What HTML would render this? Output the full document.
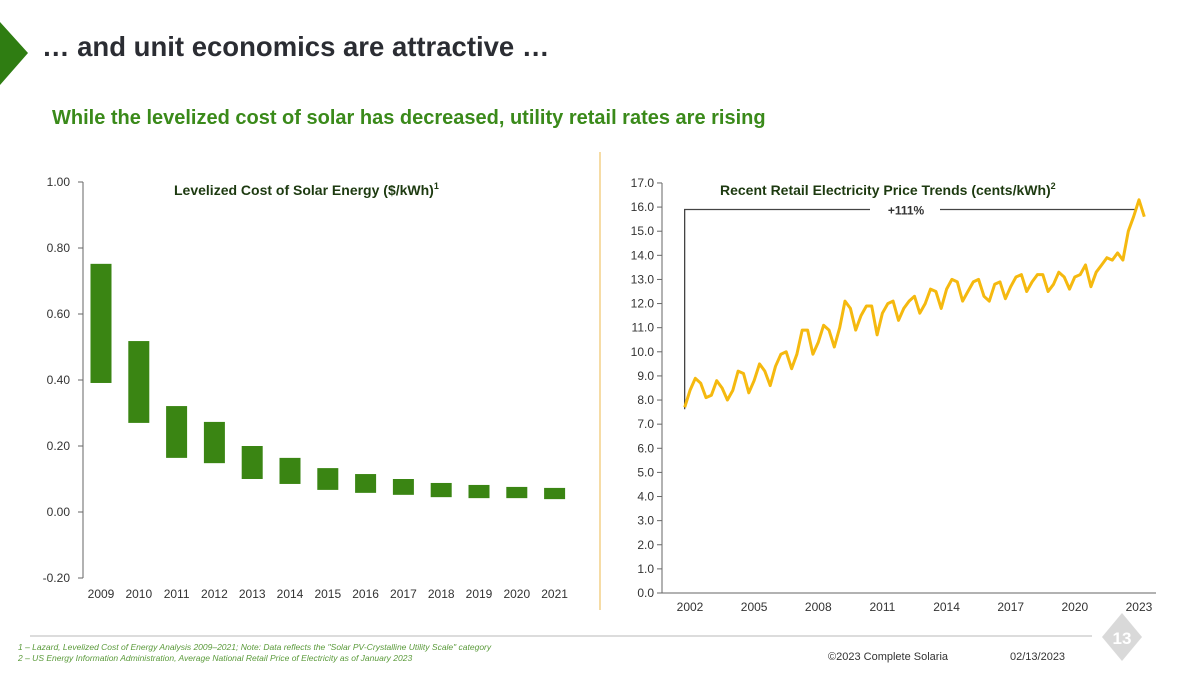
<!DOCTYPE html>
<html><head><meta charset="utf-8"><style>
body{margin:0;width:1200px;height:675px;background:#fff;overflow:hidden;font-family:"Liberation Sans",sans-serif}
svg{position:absolute;left:0;top:0}
</style></head><body>
<svg id="s" width="1200" height="675" viewBox="0 0 1200 675" xmlns="http://www.w3.org/2000/svg" font-family="Liberation Sans, sans-serif">
<polygon points="0,22 28,53 0,85" fill="#2f7d12"/>
<text x="42" y="56" font-size="27.5" font-weight="bold" fill="#2b2d33">… and unit economics are attractive …</text>
<text x="52" y="124" font-size="20" font-weight="bold" fill="#3a8a1a">While the levelized cost of solar has decreased, utility retail rates are rising</text>
<line x1="600" y1="152" x2="600" y2="610" stroke="#efc46a" stroke-width="1.2"/>
<text x="174" y="195" font-size="14" font-weight="bold" fill="#1d3a10">Levelized Cost of Solar Energy ($/kWh)<tspan font-size="9" dy="-6">1</tspan></text>
<text x="720" y="195" font-size="14" font-weight="bold" fill="#1d3a10">Recent Retail Electricity Price Trends (cents/kWh)<tspan font-size="9" dy="-6">2</tspan></text>
<g id="left"></g><g id="right"></g>
<line x1="30" y1="636" x2="1092" y2="636" stroke="#d0d0d0" stroke-width="1.5"/>
<polygon points="1122,613 1142,637 1122,661 1102,637" fill="#d9d9d9"/>
<text x="1122" y="644" font-size="17" font-weight="bold" fill="#fff" text-anchor="middle">13</text>
<text x="18" y="650" font-size="8.5" font-style="italic" fill="#5a9a3a">1 – Lazard, Levelized Cost of Energy Analysis 2009–2021; Note: Data reflects the "Solar PV-Crystalline Utility Scale" category</text>
<text x="18" y="661" font-size="8.5" font-style="italic" fill="#5a9a3a">2 – US Energy Information Administration, Average National Retail Price of Electricity as of January 2023</text>
<text x="828" y="660" font-size="11" fill="#333">©2023 Complete Solaria</text>
<text x="1010" y="660" font-size="11" fill="#333">02/13/2023</text>
</svg>
<script>
const years=["2009","2010","2011","2012","2013","2014","2015","2016","2017","2018","2019","2020","2021"];
const highs=[0.752,0.518,0.321,0.273,0.200,0.164,0.133,0.115,0.100,0.088,0.082,0.076,0.073];
const lows=[0.391,0.270,0.164,0.148,0.100,0.085,0.067,0.058,0.052,0.045,0.042,0.042,0.039];
const leftTicks=[1.0,0.8,0.6,0.4,0.2,0.0,-0.2];
const priceStart=2001.75;
const prices=[7.7,
8.4,8.9,8.7,8.1, 8.2,8.8,8.5,8.0, 8.4,9.2,9.1,8.3, 8.8,9.5,9.2,8.6,
9.4,9.9,10.0,9.3, 9.9,10.9,10.9,9.9, 10.4,11.1,10.9,10.2, 11.0,12.1,11.8,10.9,
11.5,11.9,11.9,10.7, 11.6,12.0,12.1,11.3, 11.8,12.1,12.3,11.6, 12.0,12.6,12.5,11.8,
12.6,13.0,12.9,12.1, 12.5,12.9,13.0,12.3, 12.1,12.8,12.9,12.2, 12.7,13.1,13.2,12.5,
12.9,13.2,13.2,12.5, 12.8,13.3,13.1,12.6, 13.1,13.2,13.6,12.7, 13.3,13.6,13.9,13.8,
14.1,13.8,15.0,15.6, 16.3,15.6];
const rightTicks=[0,1,2,3,4,5,6,7,8,9,10,11,12,13,14,15,16,17];
const xYears=[2002,2005,2008,2011,2014,2017,2020,2023];
const NS="http://www.w3.org/2000/svg";
function mk(p,t,a){const e=document.createElementNS(NS,t);for(const k in a)e.setAttribute(k,a[k]);p.appendChild(e);return e;}
const L=document.getElementById('left');
const ly=v=>512-v*330;
const lx=i=>101+i*37.8;
let e=mk(L,'line',{x1:83,y1:ly(1),x2:83,y2:ly(-0.2),stroke:'#666','stroke-width':1});

leftTicks.forEach(t=>{
 let tk=mk(L,'line',{x1:78,x2:83,y1:ly(t),y2:ly(t),stroke:'#666'});
 
 let tx=mk(L,'text',{x:70,y:ly(t)+4,'font-size':12,fill:'#333','text-anchor':'end'});tx.textContent=t.toFixed(2);
 
});
years.forEach((y,i)=>{
 let b=mk(L,'rect',{x:lx(i)-10.5,y:ly(highs[i]),width:21,height:ly(lows[i])-ly(highs[i]),fill:'#3a8513'});
 
 let tx=mk(L,'text',{x:lx(i),y:598,'font-size':12,fill:'#333','text-anchor':'middle'});tx.textContent=y;
 
});
const R=document.getElementById('right');
const ry=v=>593-v*24.12;
const rx=y=>690+(y-2002)*21.38;
e=mk(R,'line',{x1:662,y1:ry(17),x2:662,y2:ry(0),stroke:'#666'});

e=mk(R,'line',{x1:662,y1:ry(0),x2:1156,y2:ry(0),stroke:'#666'});

rightTicks.forEach(t=>{
 let tk=mk(R,'line',{x1:657,x2:662,y1:ry(t),y2:ry(t),stroke:'#666'});
 
 let tx=mk(R,'text',{x:654,y:ry(t)+4,'font-size':12,fill:'#333','text-anchor':'end'});tx.textContent=t.toFixed(1);
 
});
xYears.forEach(y=>{
 let tx=mk(R,'text',{x:rx(y),y:611,'font-size':12,fill:'#333','text-anchor':'middle'});tx.textContent=y;
 
});
const first=prices[0];
e=mk(R,'polyline',{points:`${rx(priceStart)},${ry(first)+2} ${rx(priceStart)},${ry(15.9)} 870,${ry(15.9)}`,fill:'none',stroke:'#444','stroke-width':1.3});

e=mk(R,'line',{x1:940,y1:ry(15.9),x2:1136,y2:ry(15.9),stroke:'#444','stroke-width':1.3});

e=mk(R,'text',{x:906,y:ry(15.9)+5,'font-size':12,'font-weight':'bold',fill:'#333','text-anchor':'middle'});e.textContent='+111%';

const pts=prices.map((v,i)=>rx(priceStart+i*0.25).toFixed(1)+','+ry(v).toFixed(1)).join(' ');
e=mk(R,'polyline',{points:pts,fill:'none',stroke:'#f5b90f','stroke-width':3,'stroke-linejoin':'round'});

</script>
</body></html>
